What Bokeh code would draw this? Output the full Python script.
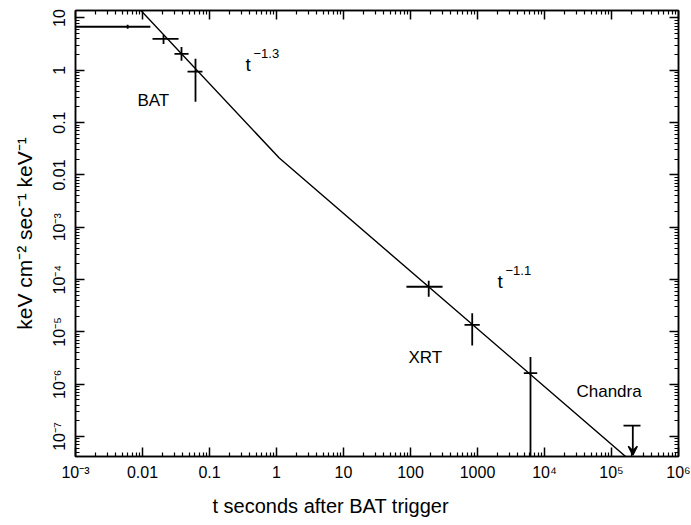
import json
import math
from bokeh.plotting import figure
from bokeh.models import (FixedTicker, CustomJSTickFormatter, LogAxis, Title,
                          Arrow, VeeHead, ColumnDataSource, Range1d)
from bokeh.core.properties import value
from bokeh.embed import file_html
from bokeh.resources import INLINE

# ---------------- data ----------------
# BAT points (time, flux, error-bar extents)
bat_t = [0.0060, 0.0206, 0.0382, 0.0618]
bat_t_lo = [0.001, 0.0141, 0.0300, 0.047]
bat_t_hi = [0.0131, 0.0345, 0.0487, 0.0785]
bat_f = [6.8, 3.98, 2.06, 0.94]
bat_f_lo = [6.2, 3.2, 1.52, 0.25]
bat_f_hi = [7.4, 4.74, 2.8, 1.66]

# XRT points
xrt_t = [187.0, 834.0, 6180.0]
xrt_t_lo = [87.0, 640.0, 4910.0]
xrt_t_hi = [301.0, 1080.0, 7780.0]
xrt_f = [7.3e-5, 1.36e-5, 1.63e-6]
xrt_f_lo = [4.7e-5, 5.5e-6, 1e-9]
xrt_f_hi = [9.5e-5, 2.27e-5, 3.3e-6]

# Chandra upper limit
ch_t = [2.08e5]
ch_t_lo = [1.51e5]
ch_t_hi = [2.71e5]
ch_f = [1.62e-7]
ch_f_arrow_end = [4.4e-8]

# broken power-law model line (t^-1.3 then t^-1.1)
model_t = [0.008, 1.1, 2.0e5]
model_f = [17.5, 0.021, 3.3e-8]

# axis ranges and tick labels
x_range_vals = [1e-3, 1e6]
y_range_vals = [4.16e-8, 13.9]
x_tick_vals = [1e-3, 1e-2, 1e-1, 1.0, 10.0, 100.0, 1000.0, 1e4, 1e5, 1e6]
x_tick_labels = ["10\u207b\u00b3", "0.01", "0.1", "1", "10", "100", "1000",
                 "10\u2074", "10\u2075", "10\u2076"]
y_tick_vals = [1e-7, 1e-6, 1e-5, 1e-4, 1e-3, 1e-2, 1e-1, 1.0, 10.0]
y_tick_labels = ["10\u207b\u2077", "10\u207b\u2076", "10\u207b\u2075", "10\u207b\u2074",
                 "10\u207b\u00b3", "0.01", "0.1", "1", "10"]

# text annotations
label_text = ["BAT", "XRT", "Chandra"]
label_t = [0.0084, 93.0, 3.0e4]
label_f = [0.26, 3.2e-6, 7.4e-7]
pl_base_text = ["t", "t"]
pl_base_t = [0.344, 1990.0]
pl_base_f = [1.27, 9.0e-5]
pl_exp_text = ["\u22121.3", "\u22121.1"]
pl_exp_t = [0.454, 2620.0]
pl_exp_f = [2.06, 1.5e-4]

x_title = "t seconds after BAT trigger"
y_title = "keV cm\u207b\u00b2 sec\u207b\u00b9 keV\u207b\u00b9"

FONT = "Liberation Sans"

# ---------------- figure ----------------
p = figure(width=691, height=525, x_axis_type="log", y_axis_type="log",
           x_range=Range1d(*x_range_vals), y_range=Range1d(*y_range_vals),
           output_backend="svg", toolbar_location=None,
           min_border_left=75, min_border_right=13, min_border_top=10,
           min_border_bottom=68)
p.grid.visible = False
p.background_fill_color = "white"
p.border_fill_color = "white"
p.outline_line_color = "black"
p.outline_line_width = 1.5


def minor(vals):
    out = []
    for v in vals[:-1]:
        for m in range(2, 10):
            out.append(v * m)
    return out


def label_formatter(vals, labels):
    mapping = {str(round(math.log10(v))): lab for v, lab in zip(vals, labels)}
    return CustomJSTickFormatter(
        code="const L = %s; const k = String(Math.round(Math.log10(tick))); return (k in L) ? L[k] : '';"
        % json.dumps(mapping))


xticker = FixedTicker(ticks=x_tick_vals, minor_ticks=minor(x_tick_vals))
yticker = FixedTicker(ticks=y_tick_vals, minor_ticks=minor([1e-8] + y_tick_vals))


def style_axis(ax):
    ax.axis_line_color = "black"
    ax.axis_line_width = 1.5
    ax.major_tick_in = 9
    ax.major_tick_out = 0
    ax.minor_tick_in = 4
    ax.minor_tick_out = 0
    ax.major_tick_line_width = 1.5
    ax.minor_tick_line_width = 1.2
    ax.major_tick_line_color = "black"
    ax.minor_tick_line_color = "black"
    ax.major_label_text_font = FONT
    ax.major_label_text_font_size = "16px"
    ax.major_label_text_color = "black"


xa = p.xaxis[0]
xa.ticker = xticker
xa.formatter = label_formatter(x_tick_vals, x_tick_labels)
style_axis(xa)
xa.major_label_standoff = 7

ya = p.yaxis[0]
ya.ticker = yticker
ya.formatter = label_formatter(y_tick_vals, y_tick_labels)
style_axis(ya)
ya.major_label_orientation = "vertical"
ya.major_label_standoff = 7
ya.axis_label = y_title
ya.axis_label_text_font = FONT
ya.axis_label_text_font_size = "21px"
ya.axis_label_text_font_style = "normal"
ya.axis_label_text_color = "black"
ya.axis_label_standoff = 13

blank = CustomJSTickFormatter(code="return '';")
top = LogAxis(ticker=xticker, formatter=blank, major_label_standoff=0)
style_axis(top)
right = LogAxis(ticker=yticker, formatter=blank, major_label_standoff=0)
style_axis(right)
p.add_layout(top, "above")
p.add_layout(right, "right")

xt = Title(text=x_title, align="left", offset=137, text_font=FONT,
           text_font_size="20px", text_font_style="normal", text_color="black",
           standoff=18)
p.add_layout(xt, "below")

# ---------------- glyphs ----------------
bat = ColumnDataSource(dict(t=bat_t, tl=bat_t_lo, th=bat_t_hi, f=bat_f, fl=bat_f_lo, fh=bat_f_hi))
xrt = ColumnDataSource(dict(t=xrt_t, tl=xrt_t_lo, th=xrt_t_hi, f=xrt_f, fl=xrt_f_lo, fh=xrt_f_hi))
for src in (bat, xrt):
    p.segment(x0="tl", y0="f", x1="th", y1="f", source=src, line_color="black", line_width=1.8)
    p.segment(x0="t", y0="fl", x1="t", y1="fh", source=src, line_color="black", line_width=1.8)

p.line(model_t, model_f, line_color="black", line_width=1.4)

ch = ColumnDataSource(dict(t=ch_t, tl=ch_t_lo, th=ch_t_hi, f=ch_f, fe=ch_f_arrow_end))
p.segment(x0="tl", y0="f", x1="th", y1="f", source=ch, line_color="black", line_width=1.8)
p.add_layout(Arrow(source=ch, x_start="t", y_start="f", x_end="t", y_end="fe",
                   line_color="black", line_width=1.8,
                   end=VeeHead(size=9, line_color="black", line_width=1.5,
                               fill_color="black")))

p.text(x=label_t, y=label_f, text=label_text, text_font=value(FONT),
       text_font_size="17px", text_color="black", text_align="left",
       text_baseline="alphabetic")
p.text(x=pl_base_t, y=pl_base_f, text=pl_base_text, text_font=value(FONT),
       text_font_size="19px", text_color="black", text_align="left",
       text_baseline="alphabetic")
p.text(x=pl_exp_t, y=pl_exp_f, text=pl_exp_text, text_font=value(FONT),
       text_font_size="13px", text_color="black", text_align="left",
       text_baseline="alphabetic")

open("out.html", "w").write(file_html(p, INLINE))
